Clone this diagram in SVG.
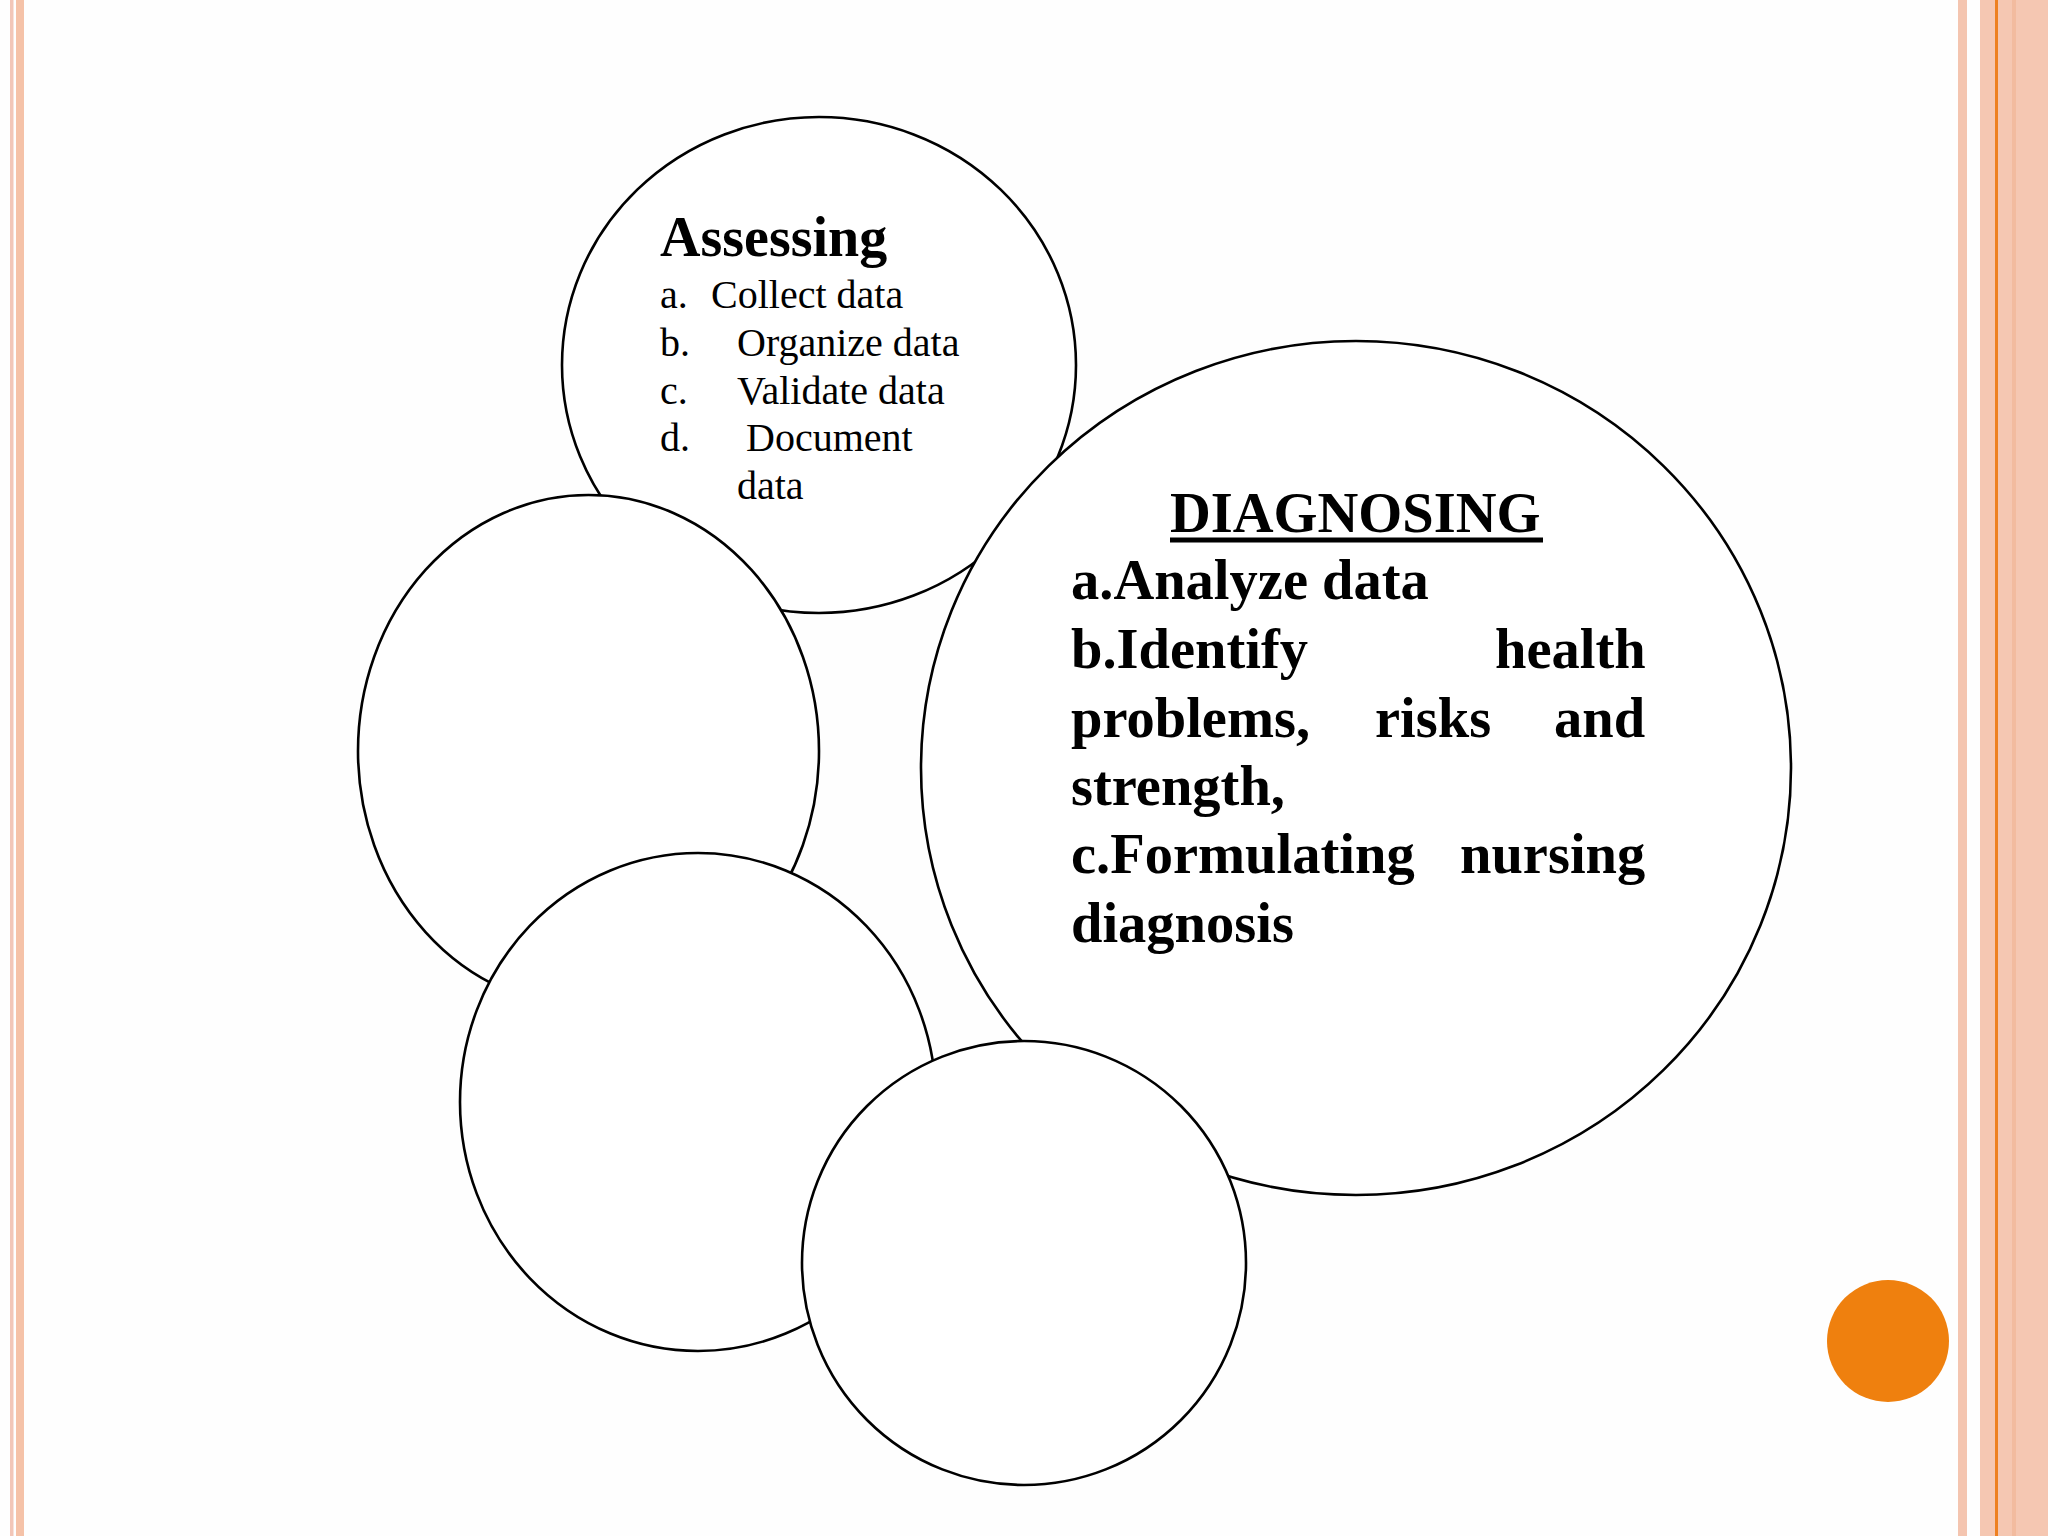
<svg xmlns="http://www.w3.org/2000/svg" width="2048" height="1536" viewBox="0 0 2048 1536">
<style>
.node ellipse{fill:#fff;stroke:#000;stroke-width:2.6}
.t{font-family:"Liberation Serif","Times New Roman",serif;fill:#000}
.h1{font-size:56px;font-weight:bold}
.li{font-size:40px}
.d{font-size:56.5px;font-weight:bold}
</style>
<rect x="0" y="0" width="2048" height="1536" fill="#fefefe"/>
<g id="border">
<rect x="10" y="0" width="3.5" height="1536" fill="#f2c6b8"/>
<rect x="16" y="0" width="8" height="1536" fill="#f5c2a8"/>
<rect x="1958" y="0" width="9" height="1536" fill="#f4c5b0"/>
<rect x="1980" y="0" width="68" height="1536" fill="#f5c7b2"/>
<rect x="1995" y="0" width="3" height="1536" fill="#ee8020"/>
<rect x="2012" y="0" width="4" height="1536" fill="#f2bb9f"/>
</g>
<g id="connectors"/>
<g id="assessing" class="node">
<ellipse cx="819" cy="365" rx="257" ry="248"/>
</g>
<g id="diagnosing" class="node">
<ellipse cx="1356" cy="768" rx="435" ry="427"/>
</g>
<g id="circle-left" class="node">
<ellipse cx="588.5" cy="751" rx="230.5" ry="256"/>
</g>
<g id="circle-lower-left" class="node">
<ellipse cx="698" cy="1102" rx="238" ry="249"/>
</g>
<g id="circle-bottom" class="node">
<ellipse cx="1024" cy="1263" rx="222" ry="222"/>
</g>
<g id="assessing-text">
<text class="t h1" x="660" y="256">Assessing</text>
<text class="t li" x="660" y="308">a.<tspan x="711">Collect data</tspan></text>
<text class="t li" x="660" y="356">b.<tspan x="737">Organize data</tspan></text>
<text class="t li" x="660" y="404">c.<tspan x="737">Validate data</tspan></text>
<text class="t li" x="660" y="451">d.<tspan x="746">Document</tspan></text>
<text class="t li" x="737" y="499">data</text>
</g>
<g id="diagnosing-text">
<text class="t d" x="1170" y="532">DIAGNOSING</text>
<rect x="1170" y="537.5" width="373" height="5" fill="#000"/>
<text class="t d" x="1071" y="599">a.Analyze data</text>
<text class="t d" y="668"><tspan x="1071">b.Identify</tspan><tspan x="1495">health</tspan></text>
<text class="t d" y="737"><tspan x="1071">problems,</tspan><tspan x="1375">risks</tspan><tspan x="1554">and</tspan></text>
<text class="t d" x="1071" y="805">strength,</text>
<text class="t d" y="873"><tspan x="1071">c.Formulating</tspan><tspan x="1460">nursing</tspan></text>
<text class="t d" x="1071" y="942">diagnosis</text>
</g>
<g id="orange-dot">
<circle cx="1888" cy="1341" r="61" fill="#ef800e"/>
</g>
</svg>
